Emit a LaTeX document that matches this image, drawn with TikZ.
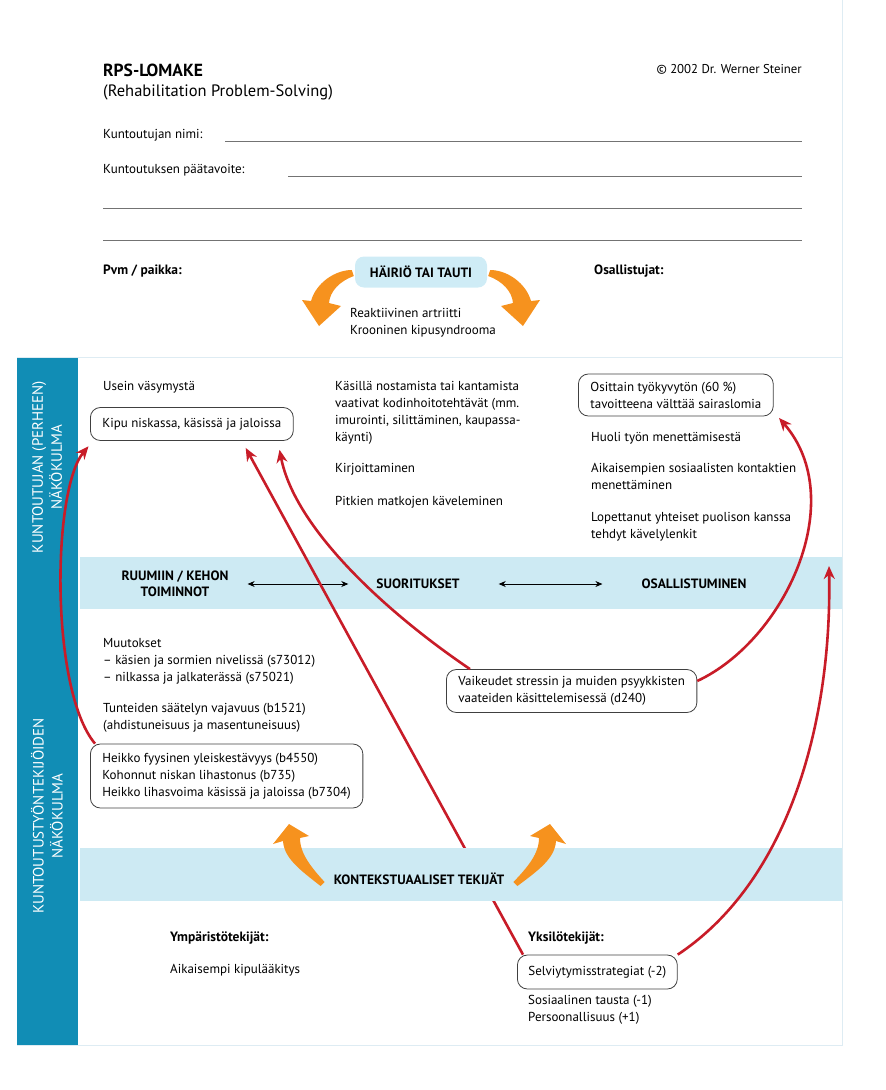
\documentclass[tikz,border=0pt]{standalone}
\usepackage{fontspec}
\setmainfont{PT Sans}
\usetikzlibrary{arrows.meta,positioning}

\definecolor{rpsteal}{RGB}{17,141,181}
\definecolor{rpsband}{RGB}{205,234,243}
\definecolor{rpsbox}{RGB}{207,236,246}
\definecolor{rpsred}{RGB}{200,28,40}
\definecolor{rpsorange}{RGB}{246,146,30}
\definecolor{rpsframe}{RGB}{222,236,243}

\begin{document}
\begin{tikzpicture}[x=1pt,y=-1pt,
    txt/.style={anchor=base west, inner sep=0pt, font=\fontsize{13}{17}\selectfont},
    para/.style={anchor=north west, inner sep=0pt, align=left, font=\fontsize{13}{17}\selectfont},
    hdr/.style={anchor=base west, inner sep=0pt, font=\fontsize{13.5}{17}\selectfont\bfseries},
    rbox/.style={draw=black!75, line width=0.8pt, rounded corners=10pt, anchor=west,
                 inner xsep=12pt, inner ysep=4pt, align=left, font=\fontsize{13}{17}\selectfont},
    bandlabel/.style={inner sep=0pt, align=center, font=\fontsize{13.5}{16}\selectfont\bfseries},
    sidelabel/.style={rotate=90, text=white, align=center, font=\fontsize{15}{19}\selectfont},
    formline/.style={draw=black!55, line width=0.6pt},
    redarrow/.style={draw=rpsred, line width=2.6pt, -{Stealth[length=13pt,width=11pt]}},
    orangearrow/.style={fill=rpsorange, draw=none},
    twoway/.style={thick, {Stealth[length=7pt,width=6pt]}-{Stealth[length=7pt,width=6pt]}}]

    % mitat
    \pgfmathsetmacro{\W}{886}
    \pgfmathsetmacro{\H}{1090}
    \pgfmathsetmacro{\R}{842}
    \pgfmathsetmacro{\top}{358}
    \pgfmathsetmacro{\bot}{1045}

    \useasboundingbox (0,0) rectangle (\W,\H);

    % tausta: reunat, sivupalkki ja ylempi kaista
    \draw [rpsframe, line width=1pt] (\R,0) -- (\R,\bot) -- (17,\bot);
    \draw [rpsframe, line width=1pt] (17,\top-1) -- (\R,\top-1);
    \fill [rpsteal] (17,\top) rectangle (78,\bot);
    \fill [rpsband] (80,557) rectangle (\R,609);

    % otsikko
    \node[hdr, font=\fontsize{17.5}{17}\selectfont\bfseries] (title) at (103,76) {RPS-LOMAKE};
    \node[txt, font=\fontsize{16.5}{17}\selectfont] (subtitle) at (103,96) {(Rehabilitation Problem-Solving)};
    \node[anchor=base east, inner sep=0pt, font=\fontsize{12.8}{17}\selectfont] (copy) at (802,73) {© 2002 Dr. Werner Steiner};

    % lomakkeen rivit
    \node[txt] (nimi) at (103,138) {Kuntoutujan nimi:};
    \node[txt] (tavoite) at (103,173) {Kuntoutuksen päätavoite:};
    \coordinate (nimiA) at (225,141);
    \coordinate (nimiB) at (802,141);
    \coordinate (tavA) at (288,176);
    \coordinate (tavB) at (802,176);
    \coordinate (riviA) at (103,208);
    \coordinate (riviB) at (802,208);
    \coordinate (riviC) at (103,240);
    \coordinate (riviD) at (802,240);
    \draw [formline] (nimiA) -- (nimiB);
    \draw [formline] (tavA) -- (tavB);
    \draw [formline] (riviA) -- (riviB);
    \draw [formline] (riviC) -- (riviD);

    \node[hdr] (pvm) at (103,274) {Pvm / paikka:};
    \node[hdr] (osall) at (594,274) {Osallistujat:};

    % häiriö tai tauti
    \node[fill=rpsbox, rounded corners=9pt, minimum width=132pt, minimum height=31pt,
          inner sep=0pt, font=\fontsize{13.5}{17}\selectfont\bfseries] (hairio) at (421,272) {HÄIRIÖ TAI TAUTI};
    \node[para] (diagnoosi) at (350,308) {Reaktiivinen artriitti\\Krooninen kipusyndrooma};
    \fill [orangearrow] ([xshift=-3pt,yshift=2pt]hairio.west) .. controls (335,270) and (316,283) .. (311,301)
        -- (302,300) -- (319,326) -- (341,306) -- (329,303) .. controls (330,291) and (340,281) .. ([xshift=-1pt,yshift=-4pt]hairio.west) -- cycle;
    \fill [orangearrow] ([xshift=3pt,yshift=2pt]hairio.east) .. controls (507,270) and (526,283) .. (531,301)
        -- (540,300) -- (523,326) -- (501,306) -- (513,303) .. controls (512,291) and (502,281) .. ([xshift=1pt,yshift=-4pt]hairio.east) -- cycle;

    % sivupalkin tekstit
    \node[sidelabel] (kuntoutuja) at (47,467) {KUNTOUTUJAN (PERHEEN)\\NÄKÖKULMA};
    \node[sidelabel] (tyontekija) at (47,816) {KUNTOUTUSTYÖNTEKIJÖIDEN\\NÄKÖKULMA};

    % kuntoutujan näkökulma
    \node[txt] (vasymys) at (103,390) {Usein väsymystä};
    \node[rbox, minimum height=33pt] (kipu) at (90,424) {Kipu niskassa, käsissä ja jaloissa};
    \node[para] (kotityo) at (335,381) {Käsillä nostamista tai kantamista\\vaativat kodinhoitotehtävät (mm.\\imurointi, silittäminen, kaupassa-\\käynti)};
    \node[txt] (kirjoitus) at (335,472) {Kirjoittaminen};
    \node[txt] (kavely) at (335,505) {Pitkien matkojen käveleminen};
    \node[rbox, minimum height=42pt] (tyokyky) at (578,395) {Osittain työkyvytön (60 \%)\\tavoitteena välttää sairaslomia};
    \node[txt] (huoli) at (591,441) {Huoli työn menettämisestä};
    \node[para] (kontaktit) at (591,463) {Aikaisempien sosiaalisten kontaktien\\menettäminen};
    \node[para] (lenkit) at (591,512) {Lopettanut yhteiset puolison kanssa\\tehdyt kävelylenkit};

    % ICF-kaista
    \node[bandlabel] (ruumis) at (175,584) {RUUMIIN / KEHON\\TOIMINNOT};
    \node[bandlabel] (suoritus) at (418,584) {SUORITUKSET};
    \node[bandlabel] (osallistuminen) at (694,584) {OSALLISTUMINEN};
    \draw [twoway, shorten <=19pt, shorten >=28pt] (ruumis.east) -- (suoritus.west);
    \draw [twoway, shorten <=39pt, shorten >=39pt] (suoritus.east) -- (osallistuminen.west);

    % kuntoutustyöntekijöiden näkökulma
    \node[para] (muutokset) at (103,638) {Muutokset\\– käsien ja sormien nivelissä (s73012)\\– nilkassa ja jalkaterässä (s75021)};
    \node[para] (tunteet) at (103,703) {Tunteiden säätelyn vajavuus (b1521)\\(ahdistuneisuus ja masentuneisuus)};
    \node[rbox, minimum height=64pt] (heikko) at (90,776) {Heikko fyysinen yleiskestävyys (b4550)\\Kohonnut niskan lihastonus (b735)\\Heikko lihasvoima käsissä ja jaloissa (b7304)};
    \node[rbox, minimum height=43pt] (stressi) at (446,691) {Vaikeudet stressin ja muiden psyykkisten\\vaateiden käsittelemisessä (d240)};

    % tekijät
    \node[hdr] (ymparisto) at (170,941) {Ympäristötekijät:};
    \node[txt] (laakitys) at (170,973) {Aikaisempi kipulääkitys};
    \node[hdr] (yksilo) at (528,941) {Yksilötekijät:};
    \node[rbox, minimum height=34pt, inner xsep=11pt] (selviytyminen) at (517,972) {Selviytymisstrategiat (-2)};
    \node[para] (tausta) at (528,995) {Sosiaalinen tausta (-1)\\Persoonallisuus (+1)};
    \coordinate (osallEnd) at (829,566);

    % yhteydet (suora viiva jää alemman kaistan alle)
    \draw [redarrow, shorten >=8pt] ([xshift=6pt]selviytyminen.north west) -- ([xshift=50pt]kipu.south);
    \fill [rpsband] (80,848) rectangle (\R,901);
    \draw [redarrow, shorten >=7pt] ([xshift=5pt]heikko.north west) .. controls (50,690) and (52,490) .. ([xshift=3pt]kipu.south west);
    \draw [redarrow, shorten >=9pt] ([xshift=24pt]stressi.north west) .. controls (390,615) and (295,530) .. ([xshift=86pt]kipu.south);
    \draw [redarrow, shorten >=2pt] ([yshift=10pt]stressi.east) .. controls (785,640) and (850,500) .. ([xshift=4pt]tyokyky.south east);
    \draw [redarrow] (selviytyminen.north east) .. controls (790,880) and (832,720) .. (osallEnd);

    % kontekstuaaliset tekijät
    \node[bandlabel] (konteksti) at (419,879) {KONTEKSTUAALISET TEKIJÄT};
    \fill [orangearrow] ([xshift=-9pt,yshift=-3pt]konteksti.west) .. controls (306,862) and (300,850) .. (300,838)
        -- (309,836) -- (289,824) -- (273,844) -- (283,841) .. controls (284,858) and (300,870) .. ([xshift=-13pt,yshift=-7pt]konteksti.west) -- cycle;
    \fill [orangearrow] ([xshift=9pt,yshift=-3pt]konteksti.east) .. controls (533,862) and (539,850) .. (539,838)
        -- (530,836) -- (550,824) -- (566,844) -- (556,841) .. controls (555,858) and (539,870) .. ([xshift=13pt,yshift=-7pt]konteksti.east) -- cycle;

\end{tikzpicture}
\end{document}
